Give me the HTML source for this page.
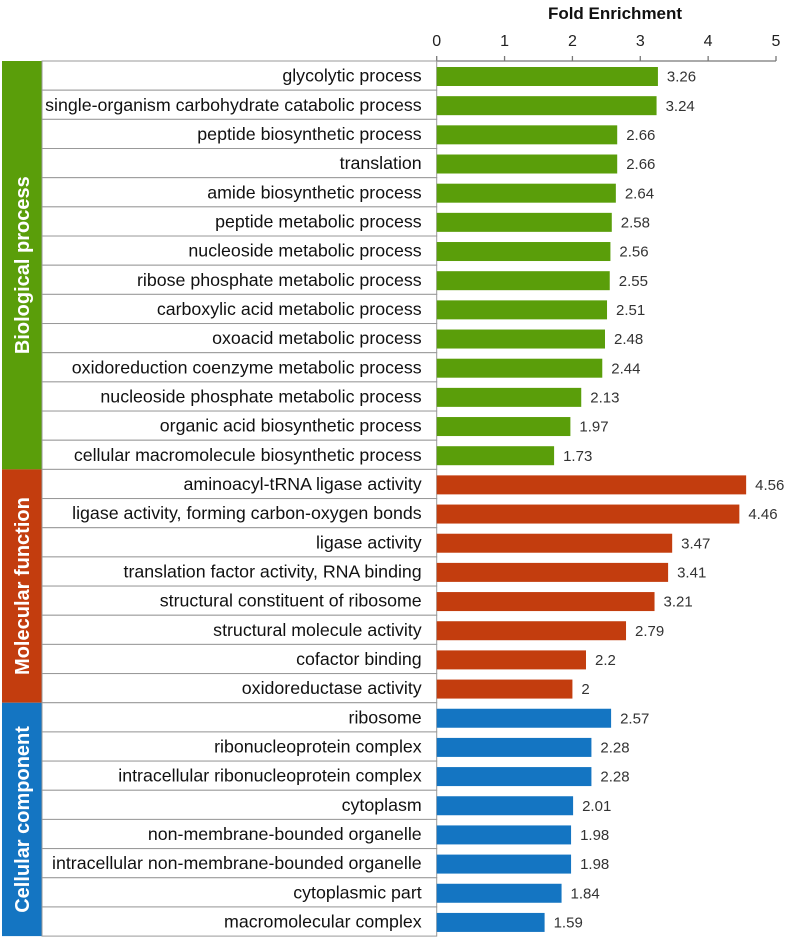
<!DOCTYPE html>
<html><head><meta charset="utf-8"><style>
body{margin:0;background:#fff;}
svg{display:block;font-family:"Liberation Sans",Arial,sans-serif;}
</style></head><body>
<svg id="chart" width="787" height="939"></svg>
<script>
const categories=["glycolytic process","single-organism carbohydrate catabolic process","peptide biosynthetic process","translation","amide biosynthetic process","peptide metabolic process","nucleoside metabolic process","ribose phosphate metabolic process","carboxylic acid metabolic process","oxoacid metabolic process","oxidoreduction coenzyme metabolic process","nucleoside phosphate metabolic process","organic acid biosynthetic process","cellular macromolecule biosynthetic process","aminoacyl-tRNA ligase activity","ligase activity, forming carbon-oxygen bonds","ligase activity","translation factor activity, RNA binding","structural constituent of ribosome","structural molecule activity","cofactor binding","oxidoreductase activity","ribosome","ribonucleoprotein complex","intracellular ribonucleoprotein complex","cytoplasm","non-membrane-bounded organelle","intracellular non-membrane-bounded organelle","cytoplasmic part","macromolecular complex"];
const values=[3.26,3.24,2.66,2.66,2.64,2.58,2.56,2.55,2.51,2.48,2.44,2.13,1.97,1.73,4.56,4.46,3.47,3.41,3.21,2.79,2.2,2,2.57,2.28,2.28,2.01,1.98,1.98,1.84,1.59];
const groupNames=["Biological process","Molecular function","Cellular component"];
const groupSizes=[14,8,8];
const groupColors=["#5a9e0a","#c33d0e","#1475c2"];
const ticks=[0,1,2,3,4,5];
const NS="http://www.w3.org/2000/svg";
const svgEl=document.getElementById('chart');
const x0=436.7,x1=776,topY=61,rowH=29.17,labX=42;
const xs=v=>x0+(x1-x0)*v/5;
const ys=i=>topY+i*rowH;
function mk(t,a,txt){const e=document.createElementNS(NS,t);for(const k in a)e.setAttribute(k,a[k]);if(txt!==undefined)e.textContent=txt;svgEl.appendChild(e);return e;}
let t=mk('text',{x:615,y:19,'text-anchor':'middle','font-size':17,'font-weight':'bold',fill:'#111'},'Fold Enrichment');


let ax=mk('line',{x1:x0,x2:x1,y1:topY,y2:topY,stroke:'#777','stroke-width':1.3});


ticks.forEach(v=>{
 let l=mk('line',{x1:xs(v),x2:xs(v),y1:56,y2:topY,stroke:'#777','stroke-width':1.3});
 
 
 let tl=mk('text',{x:xs(v),y:46,'text-anchor':'middle','font-size':16,fill:'#222'},String(v));
 
 
});
let start=0;
groupSizes.forEach((n,g)=>{
 const yA=ys(start),yB=ys(start+n);
 let r=mk('rect',{x:2,y:yA,width:labX-2,height:yB-yA,fill:groupColors[g]});
 
 
 const cy=(yA+yB)/2;
 let gt=mk('text',{x:23,y:cy,'text-anchor':'middle','dominant-baseline':'central','font-size':20,'font-weight':'bold',fill:'#fff',transform:`rotate(-90 23 ${cy})`},groupNames[g]);
 
 
 for(let i=start;i<start+n;i++){
  const y=ys(i);
  let c=mk('rect',{x:labX,y:y,width:x0-labX,height:rowH,fill:'#fff',stroke:'#999','stroke-width':1});
  
  
  let lt=mk('text',{x:x0-15,y:y+rowH/2+6,'text-anchor':'end','font-size':17.8,fill:'#111'},categories[i]);
  
  
  let b=mk('rect',{x:x0,y:y+6,width:xs(values[i])-x0,height:19,fill:groupColors[g]});
  
  
  let vt=mk('text',{x:xs(values[i])+9,y:y+rowH/2+6,'font-size':15,fill:'#333'},String(values[i]));
  
  
 }
 start+=n;
});
</script>
</body></html>
